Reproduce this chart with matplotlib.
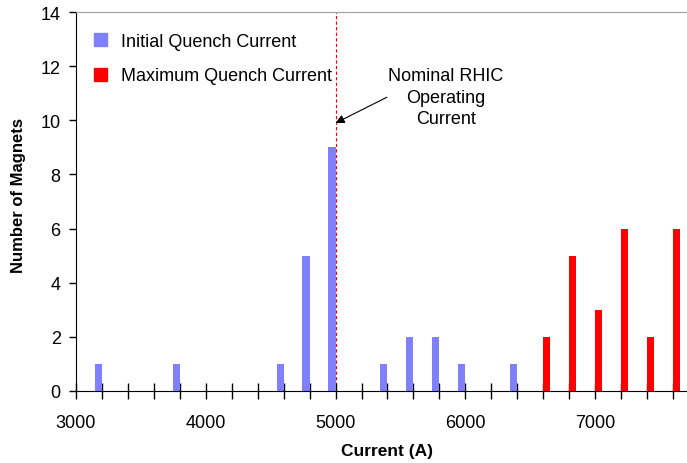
import matplotlib
matplotlib.use("Agg")
import matplotlib.pyplot as plt
from matplotlib.patches import Patch

plt.rcParams['font.family'] = ['Liberation Sans', 'DejaVu Sans']

initial_x = [3200, 3800, 4600, 4800, 5000, 5400, 5600, 5800, 6000, 6400]
initial_n = [1, 1, 1, 5, 9, 1, 2, 2, 1, 1]
maximum_x = [6600, 6800, 7000, 7200, 7400, 7600]
maximum_n = [2, 5, 3, 6, 2, 6]
nominal_current = 5000
major_ticks = [3000, 4000, 5000, 6000, 7000]
minor_ticks = list(range(3000, 7700, 200))
y_ticks = list(range(0, 15, 2))

blue = '#8080ff'
red = '#ff0000'

fig = plt.figure(figsize=(6.87, 4.64), dpi=100)
ax = fig.add_axes([76/687, 1 - 392/464, 610/687, (392 - 13)/464])

w = 55
ax.bar(initial_x, initial_n, width=-w, align='edge', color=blue, zorder=2)
ax.bar(maximum_x, maximum_n, width=w, align='edge', color=red, zorder=2)

ax.axvline(nominal_current, color=red, lw=0.8, ls=(0, (3, 2)), zorder=1)

ax.set_xlim(3000, 7700)
ax.set_ylim(0, 14)
ax.set_xticks(major_ticks)
ax.set_xticks(minor_ticks, minor=True)
ax.set_yticks(y_ticks)
ax.tick_params(axis='x', which='major', direction='inout', length=11, width=1, labelsize=13, pad=11)
ax.tick_params(axis='x', which='minor', direction='inout', length=11, width=1)
ax.tick_params(axis='y', direction='out', length=5, width=1, labelsize=13, pad=6)

ax.spines['right'].set_visible(False)
ax.spines['top'].set_color('#a0a0a0')
ax.spines['left'].set_color('black')
ax.spines['bottom'].set_color('black')

ax.set_xlabel('Current (A)', fontsize=12.5, fontweight='bold')
ax.set_ylabel('Number of Magnets', fontsize=12, fontweight='bold')
ax.xaxis.set_label_coords(0.51, -0.137)
ax.yaxis.set_label_coords(-0.082, 0.518)

ax.text(5850, 10.86, 'Nominal RHIC\nOperating\nCurrent', ha='center', va='center',
        fontsize=13, linespacing=1.35)
ax.annotate('', xy=(nominal_current, 9.9), xytext=(5395, 10.85),
            arrowprops=dict(arrowstyle='-|>', color='black', lw=0.8,
                            shrinkA=0, shrinkB=0, mutation_scale=13))

handles = [Patch(color=blue, label='Initial Quench Current'),
           Patch(color=red, label='Maximum Quench Current')]
ax.legend(handles=handles, loc='upper left', bbox_to_anchor=(0.0, 0.992),
          frameon=False, fontsize=13, handlelength=0.72, handleheight=0.72,
          handletextpad=0.8, labelspacing=0.96, borderpad=0.5)

fig.savefig('out.png', dpi=100)
